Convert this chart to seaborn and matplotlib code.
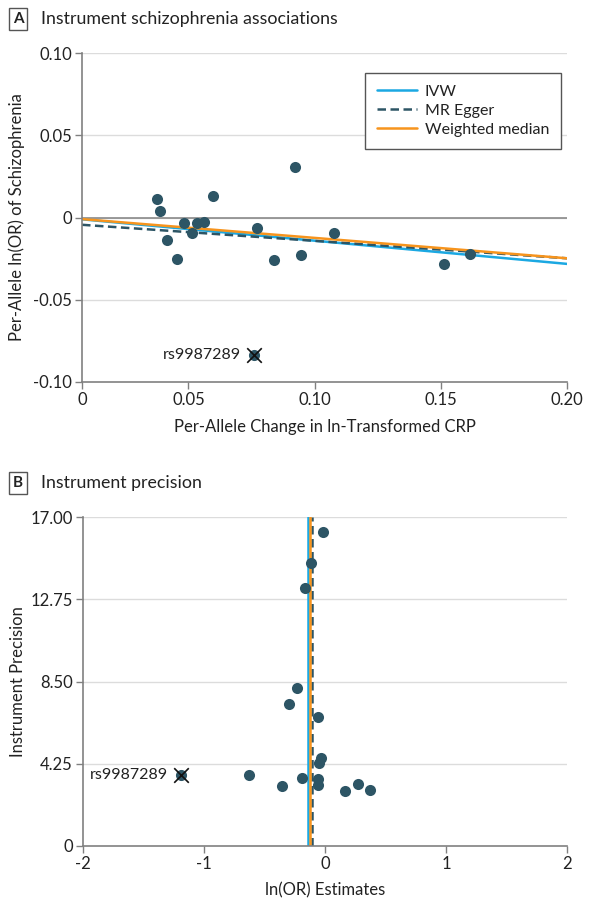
import numpy as np
import pandas as pd
import matplotlib
matplotlib.use("Agg")
import matplotlib.pyplot as plt
import seaborn as sns

# ---------------- data ----------------
# Panel A: per-allele CRP change (x) vs per-allele ln(OR) of schizophrenia (y)
a_x = [0.0377, 0.0388, 0.0483, 0.0513, 0.0416, 0.0454, 0.0534, 0.0561,
       0.0598, 0.0773, 0.0839, 0.0924, 0.0945, 0.1077, 0.1511, 0.1617]
a_y = [0.0112, 0.0041, -0.0034, -0.0095, -0.0134, -0.0253, -0.0034, -0.0028,
       0.0132, -0.0063, -0.0259, 0.0307, -0.0225, -0.0093, -0.0280, -0.0219]

# Panel B: ln(OR) estimate (x) vs instrument precision (y)
b_x = [-0.014, -0.116, -0.163, -0.226, -0.300, -0.060, -0.033, -0.047,
       -0.060, -0.060, -0.190, -0.358, -0.628, 0.163, 0.270, 0.370]
b_y = [16.21, 14.61, 13.32, 8.18, 7.32, 6.67, 4.56, 4.27,
       3.48, 3.17, 3.53, 3.10, 3.65, 2.84, 3.22, 2.87]

outlier_snp = "rs9987289"
outlier_a = (0.0759, -0.0835)
outlier_b = (-1.19, 3.67)

methods = ["IVW", "MR Egger", "Weighted median"]
slopes = [-0.141, -0.106, -0.124]
intercepts = [0.0, -0.0036, 0.0]
colors = ["#1ba8e2", "#2d5565", "#f7941d"]
linestyles = ["-", (0, (3.4, 1.8)), "-"]

a_xticks = [0.0078, 0.05, 0.10, 0.15, 0.20]
a_xticklabels = ["0", "0.05", "0.10", "0.15", "0.20"]
a_yticks = [-0.10, -0.05, 0.0, 0.05, 0.10]
a_yticklabels = ["-0.10", "-0.05", "0", "0.05", "0.10"]
b_xticks = [-2, -1, 0, 1, 2]
b_yticks = [0, 4.25, 8.50, 12.75, 17.00]
b_yticklabels = ["0", "4.25", "8.50", "12.75", "17.00"]

# ---------------- style ----------------
sns.set_theme(style="white")
plt.rcParams["font.family"] = ["Lato", "DejaVu Sans"]
TXT = "#222222"
AXC = "#808080"
GRID = "#dcdcdc"
DOT = "#2d5565"
TICK_FS = 12
LAB_FS = 12

fig = plt.figure(figsize=(5.91, 9.01), dpi=100)
axA = fig.add_axes([82 / 591, 1 - 382 / 901, 485 / 591, 329 / 901])
axB = fig.add_axes([82.7 / 591, 1 - 846 / 901, 484.3 / 591, 329 / 901])


def style_axes(ax):
    for s in ["top", "right"]:
        ax.spines[s].set_visible(False)
    for s in ["left", "bottom"]:
        ax.spines[s].set_color(AXC)
        ax.spines[s].set_linewidth(1.2)
    ax.tick_params(axis="both", direction="out", length=5, width=1,
                   color=AXC, labelsize=TICK_FS, labelcolor=TXT, pad=2,
                   left=True, bottom=True)
    ax.grid(False)


# ---------------- Panel A ----------------
xmin_a, xmax_a = a_xticks[0], a_xticks[-1]
axA.set_xlim(xmin_a, xmax_a)
axA.set_ylim(-0.10, 0.10)
for yv in a_yticks[1:]:
    axA.axhline(yv, color=GRID, lw=1, zorder=0)
axA.axhline(0, color="#8a8a8a", lw=1.2, zorder=1)

xs = np.array([xmin_a, xmax_a])
for name, m, b, c, ls in zip(methods, slopes, intercepts, colors, linestyles):
    df_line = pd.DataFrame({"x": xs, "y": b + m * xs})
    sns.lineplot(data=df_line, x="x", y="y", ax=axA, color=c, lw=1.8,
                 linestyle=ls, label=name, zorder=2)

dfA = pd.DataFrame({"x": a_x, "y": a_y})
sns.scatterplot(data=dfA, x="x", y="y", ax=axA, color=DOT, s=64,
                linewidth=0, zorder=3, legend=False)
axA.scatter([outlier_a[0]], [outlier_a[1]], s=64, color=DOT, lw=0, zorder=3)
axA.scatter([outlier_a[0]], [outlier_a[1]], s=110, marker="x", color="#111111",
            lw=1.2, zorder=4)
axA.annotate(outlier_snp, xy=outlier_a, xytext=(-9, 0),
             textcoords="offset points", ha="right", va="center",
             fontsize=11.5, color=TXT)

style_axes(axA)
axA.set_xticks(a_xticks)
axA.set_xticklabels(a_xticklabels)
axA.set_yticks(a_yticks)
axA.set_yticklabels(a_yticklabels)
axA.set_xlabel("Per-Allele Change in ln-Transformed CRP", fontsize=LAB_FS, color=TXT)
axA.set_ylabel("Per-Allele ln(OR) of Schizophrenia", fontsize=LAB_FS, color=TXT)
axA.xaxis.set_label_coords(0.5, -0.112)
axA.yaxis.set_label_coords(-0.118, 0.5)

leg = axA.legend(loc="upper right", bbox_to_anchor=(0.988, 0.94),
                 frameon=True, fancybox=False, edgecolor="#555555",
                 framealpha=1, fontsize=11.5, handlelength=2.5,
                 borderpad=0.75, labelspacing=0.3, borderaxespad=0,
                 handletextpad=0.5)
leg.get_frame().set_linewidth(1.0)
for t in leg.get_texts():
    t.set_color(TXT)

# ---------------- Panel B ----------------
axB.set_xlim(-2, 2)
axB.set_ylim(0, 17)
for yv in b_yticks[1:]:
    axB.axhline(yv, color=GRID, lw=1, zorder=0)

for name, m, c, ls in zip(methods, slopes, colors, linestyles):
    axB.axvline(m, color=c, lw=1.8, linestyle=ls, zorder=2)

dfB = pd.DataFrame({"x": b_x, "y": b_y})
sns.scatterplot(data=dfB, x="x", y="y", ax=axB, color=DOT, s=64,
                linewidth=0, zorder=3, legend=False)
axB.scatter([outlier_b[0]], [outlier_b[1]], s=64, color=DOT, lw=0, zorder=3)
axB.scatter([outlier_b[0]], [outlier_b[1]], s=110, marker="x", color="#111111",
            lw=1.2, zorder=4)
axB.annotate(outlier_snp, xy=outlier_b, xytext=(-9, 0),
             textcoords="offset points", ha="right", va="center",
             fontsize=11.5, color=TXT)

style_axes(axB)
axB.set_xticks(b_xticks)
axB.set_xticklabels([str(v) for v in b_xticks])
axB.set_yticks(b_yticks)
axB.set_yticklabels(b_yticklabels)
axB.set_xlabel("ln(OR) Estimates", fontsize=LAB_FS, color=TXT)
axB.set_ylabel("Instrument Precision", fontsize=LAB_FS, color=TXT)
axB.xaxis.set_label_coords(0.5, -0.11)
axB.yaxis.set_label_coords(-0.118, 0.5)

# ---------------- panel headers ----------------
box = dict(boxstyle="square,pad=0.25", facecolor="white", edgecolor="#555555", lw=1)
fig.text(18 / 591, 1 - 19 / 901, "A", fontsize=11, fontweight="bold",
         ha="center", va="center", color=TXT, bbox=box)
fig.text(41 / 591, 1 - 19 / 901, "Instrument schizophrenia associations",
         fontsize=12.8, ha="left", va="center", color=TXT)
fig.text(18 / 591, 1 - 483 / 901, "B", fontsize=11, fontweight="bold",
         ha="center", va="center", color=TXT, bbox=box)
fig.text(41 / 591, 1 - 483 / 901, "Instrument precision",
         fontsize=12.8, ha="left", va="center", color=TXT)

fig.savefig("out.png", dpi=100, facecolor="white")
